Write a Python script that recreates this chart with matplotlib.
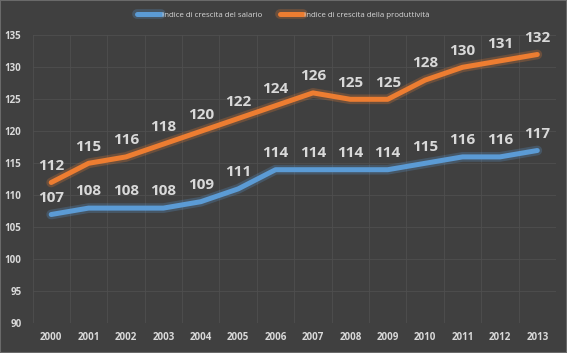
import matplotlib
matplotlib.use("Agg")
import matplotlib.pyplot as plt
import matplotlib.patheffects as pe
from matplotlib.patches import Rectangle
import numpy as np

years = ["2000", "2001", "2002", "2003", "2004", "2005", "2006",
         "2007", "2008", "2009", "2010", "2011", "2012", "2013"]
salario = [107, 108, 108, 108, 109, 111, 114, 114, 114, 114, 115, 116, 116, 117]
produttivita = [112, 115, 116, 118, 120, 122, 124, 126, 125, 125, 128, 130, 131, 132]
series_names = ["Indice di crescita del salario",
                "Indice di crescita della produttività"]

plt.rcParams["font.family"] = ["Open Sans", "DejaVu Sans"]

bg = "#404040"
txt = "#d9d9d9"
colors = ["#5b9bd5", "#ed7d31"]

fig = plt.figure(figsize=(5.67, 3.53), dpi=100, facecolor=bg)
ax = fig.add_axes([32.5 / 567, 1 - 323.3 / 353, (556 - 32.5) / 567, (323.3 - 35.3) / 353])
ax.set_facecolor(bg)

x = np.arange(len(years))
for vals, name, col in zip([salario, produttivita], series_names, colors):
    ax.plot(x, vals, color=col, lw=3.6, solid_capstyle="round", label=name,
            path_effects=[pe.Stroke(linewidth=7, foreground=col, alpha=0.25), pe.Normal()],
            zorder=3)
    for xi, v in zip(x, vals):
        ax.annotate(str(v), (xi, v), xytext=(0, 7), textcoords="offset points",
                    ha="center", va="bottom", fontsize=11, fontweight="bold",
                    color=txt, zorder=4)

ax.set_xlim(-0.5, len(years) - 0.5)
ax.set_ylim(90, 135)
ax.set_yticks(np.arange(90, 136, 5))
ax.set_xticks(x)
ax.set_xticklabels(years)
ax.set_xticks(np.arange(-0.5, len(years), 1), minor=True)
ax.tick_params(which="both", length=0)
ax.tick_params(axis="both", colors=txt, labelsize=7)
for lab in ax.get_xticklabels() + ax.get_yticklabels():
    lab.set_fontweight("bold")
ax.tick_params(axis="y", pad=8)
ax.tick_params(axis="x", pad=6)
ax.grid(axis="y", which="major", color="#4f4f4f", lw=0.6)
ax.grid(axis="x", which="minor", color="#4f4f4f", lw=0.6)
ax.set_axisbelow(True)
for s in ax.spines.values():
    s.set_visible(False)

leg = fig.legend(loc="center", bbox_to_anchor=(0.5, 1 - 15 / 353), ncol=2, frameon=False,
                 fontsize=5.7, handlelength=3, columnspacing=2.2, handletextpad=0.1)
for t in leg.get_texts():
    t.set_color(txt)

fig.patches.append(Rectangle((0, 0), 1, 1, transform=fig.transFigure, fill=False,
                             edgecolor="#6a6a6a", lw=1.5))

fig.savefig("out.png", dpi=100, facecolor=bg)
